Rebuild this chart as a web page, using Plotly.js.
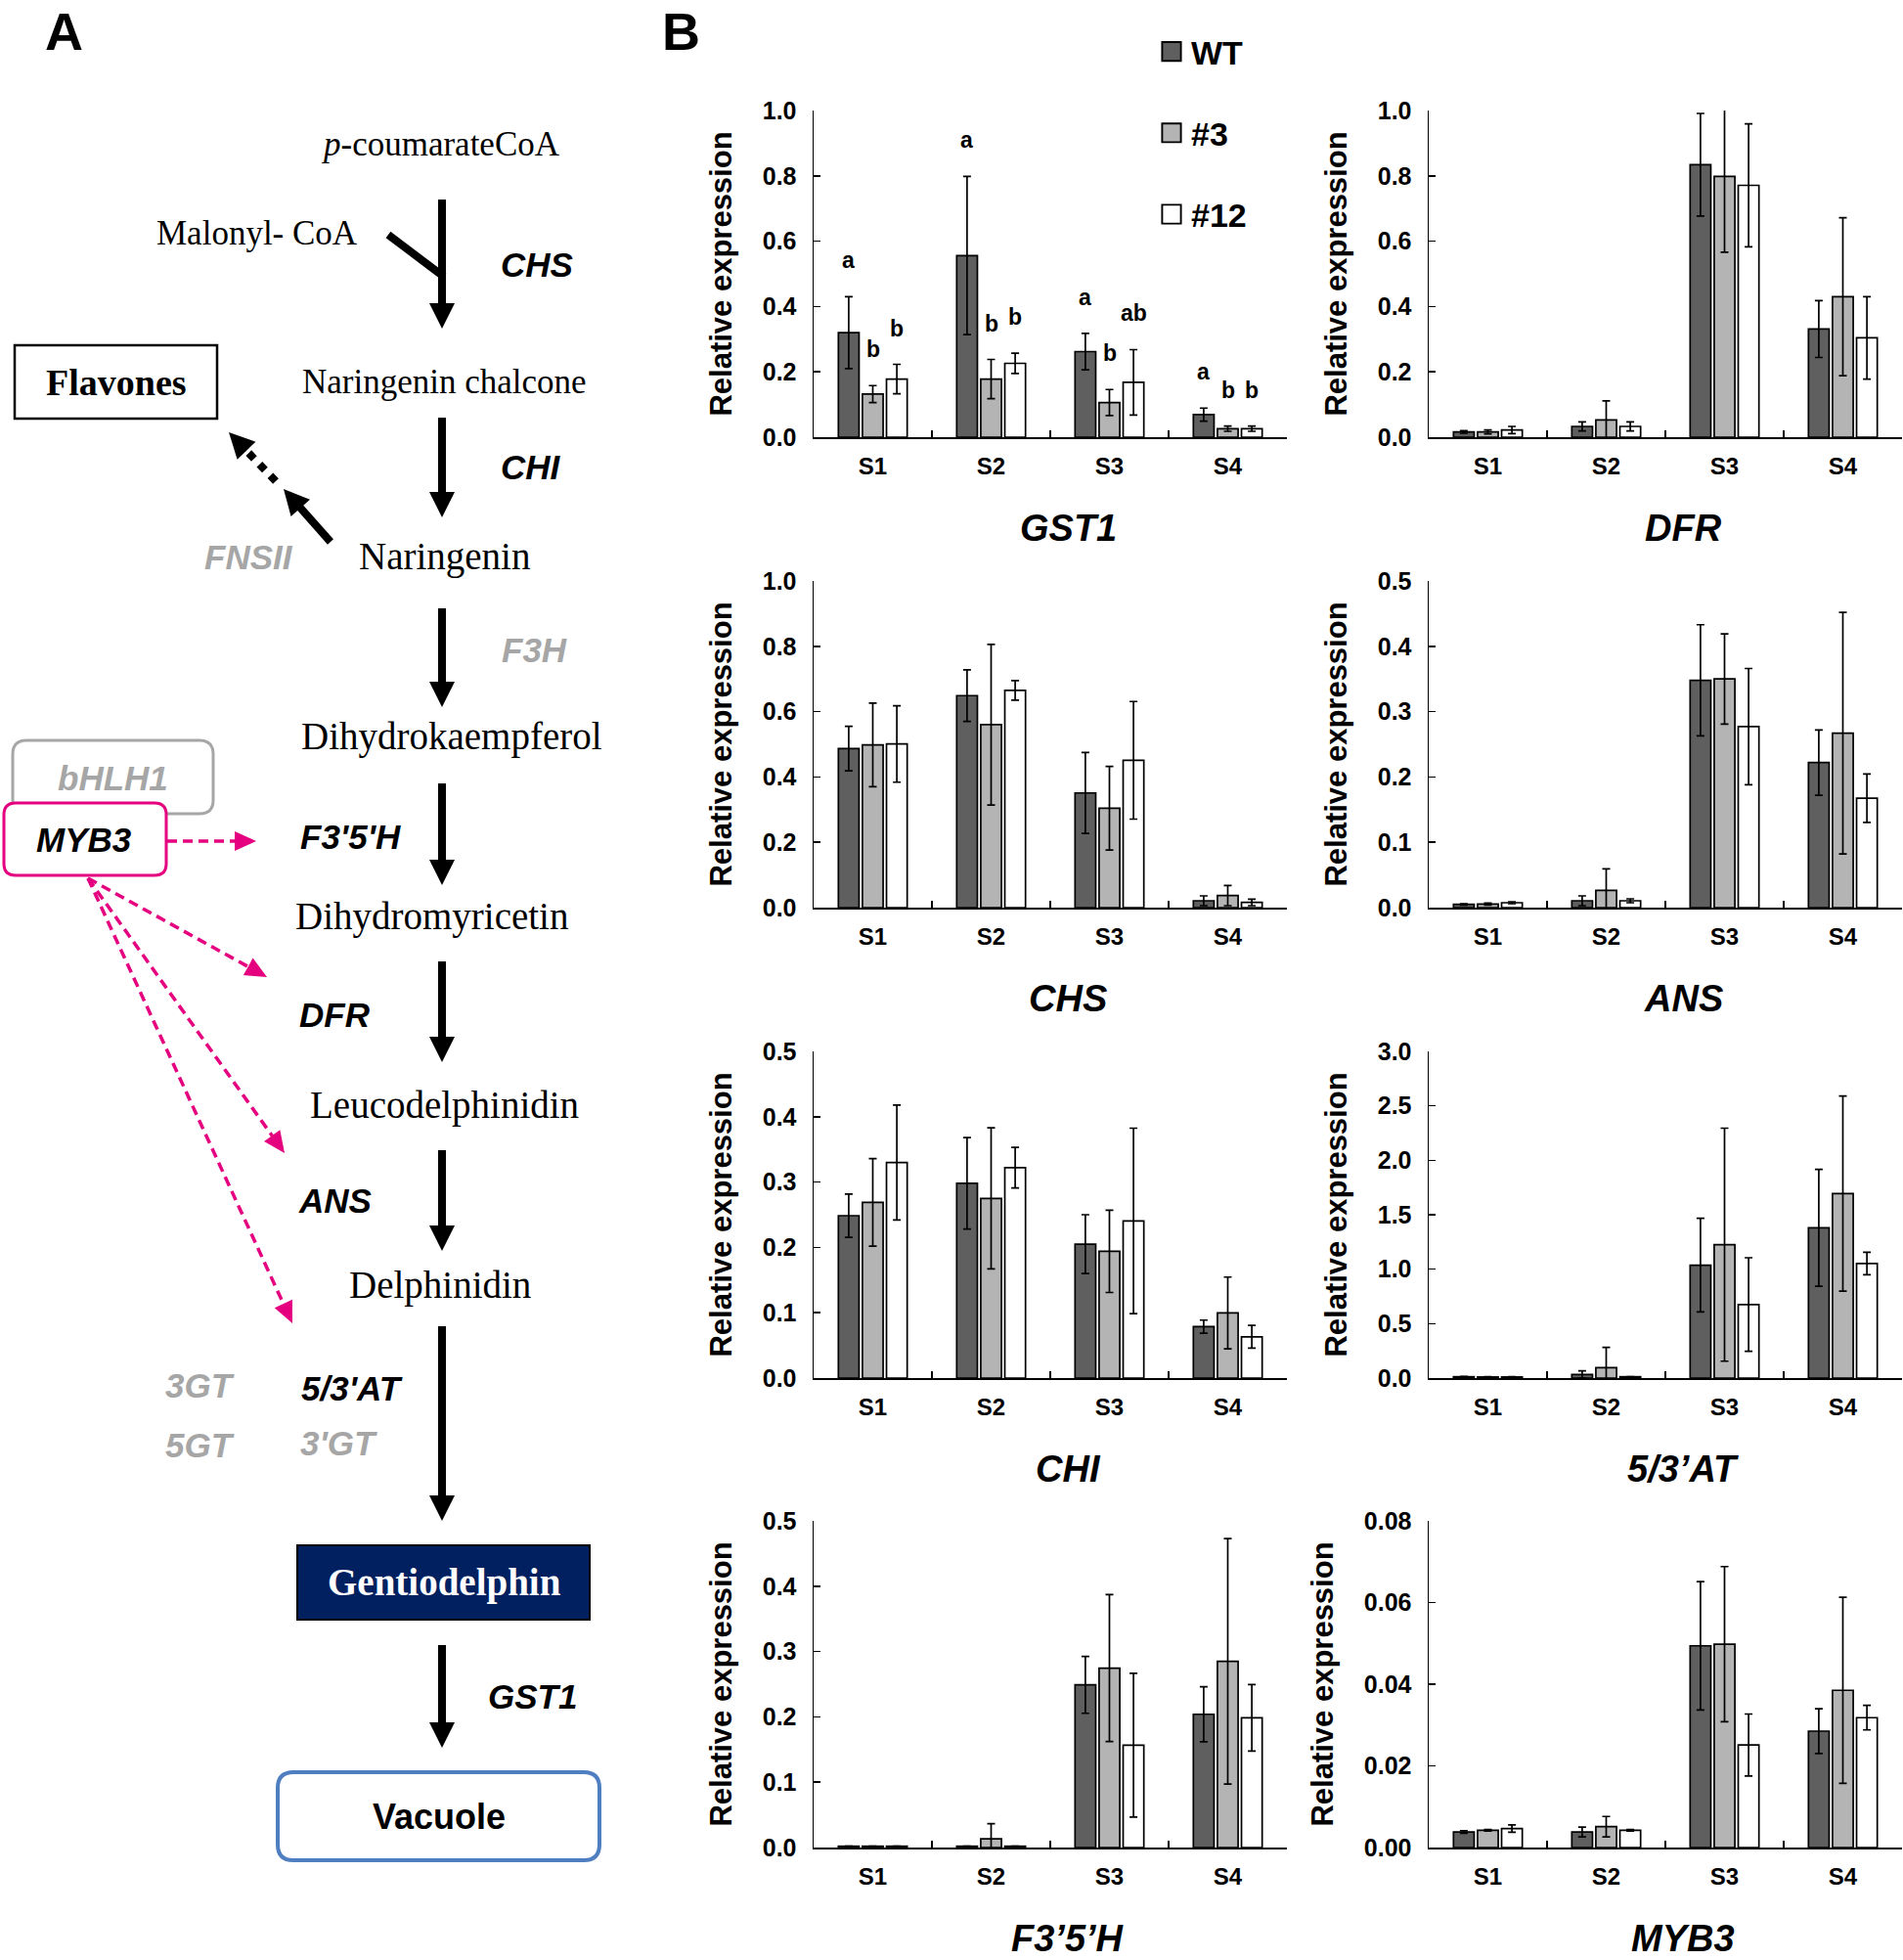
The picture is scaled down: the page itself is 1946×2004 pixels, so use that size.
<!DOCTYPE html>
<html><head><meta charset="utf-8">
<script src="https://cdn.plot.ly/plotly-3.0.1.min.js"></script>
<style>html,body{margin:0;padding:0;background:#fff}#chart{width:1946px;height:2004px}</style>
</head><body><div id="chart"></div>
<script>
// ---------------- DATA ----------------
const STAGES = ['S1','S2','S3','S4'];
const LINES = ['WT','#3','#12'];

const GST1_WT  = [0.320, 0.556, 0.262, 0.069];
const GST1_WT_E= [0.110, 0.242, 0.056, 0.020];
const GST1_L3  = [0.132, 0.178, 0.106, 0.026];
const GST1_L3_E= [0.026, 0.060, 0.040, 0.008];
const GST1_L12 = [0.178, 0.226, 0.168, 0.026];
const GST1_L12_E=[0.045, 0.031, 0.100, 0.008];
const GST1_LET_WT  = ['a','a','a','a'];
const GST1_LET_L3  = ['b','b','b','b'];
const GST1_LET_L12 = ['b','b','ab','b'];

const DFR_WT  = [0.016, 0.033, 0.834, 0.331];
const DFR_WT_E= [0.004, 0.014, 0.157, 0.087];
const DFR_L3  = [0.016, 0.053, 0.798, 0.430];
const DFR_L3_E= [0.006, 0.058, 0.232, 0.242];
const DFR_L12 = [0.022, 0.033, 0.771, 0.304];
const DFR_L12_E=[0.011, 0.014, 0.188, 0.126];

const CHS_WT  = [0.487, 0.649, 0.351, 0.021];
const CHS_WT_E= [0.068, 0.079, 0.124, 0.015];
const CHS_L3  = [0.498, 0.560, 0.304, 0.037];
const CHS_L3_E= [0.128, 0.246, 0.128, 0.031];
const CHS_L12 = [0.501, 0.665, 0.451, 0.016];
const CHS_L12_E=[0.117, 0.030, 0.180, 0.010];

const ANS_WT  = [0.0050, 0.0105, 0.348, 0.222];
const ANS_WT_E= [0.0010, 0.0075, 0.085, 0.050];
const ANS_L3  = [0.0055, 0.0264, 0.350, 0.267];
const ANS_L3_E= [0.0015, 0.0330, 0.069, 0.185];
const ANS_L12 = [0.0075, 0.0105, 0.277, 0.1675];
const ANS_L12_E=[0.0015, 0.0030, 0.089, 0.037];

const CHI_WT  = [0.2485, 0.298, 0.205, 0.0787];
const CHI_WT_E= [0.033, 0.070, 0.045, 0.010];
const CHI_L3  = [0.269, 0.275, 0.194, 0.0996];
const CHI_L3_E= [0.067, 0.108, 0.063, 0.055];
const CHI_L12 = [0.330, 0.322, 0.2405, 0.0632];
const CHI_L12_E=[0.088, 0.031, 0.142, 0.0175];

const AT_WT  = [0.012, 0.033, 1.037, 1.380];
const AT_WT_E= [0.003, 0.033, 0.430, 0.537];
const AT_L3  = [0.010, 0.096, 1.225, 1.694];
const AT_L3_E= [0.003, 0.185, 1.070, 0.896];
const AT_L12 = [0.010, 0.012, 0.675, 1.052];
const AT_L12_E=[0.002, 0.000, 0.430, 0.103];

const F35H_WT  = [0.002, 0.002, 0.249, 0.204];
const F35H_WT_E= [0.000, 0.000, 0.0435, 0.042];
const F35H_L3  = [0.002, 0.0134, 0.2746, 0.285];
const F35H_L3_E= [0.000, 0.023, 0.1125, 0.188];
const F35H_L12 = [0.002, 0.002, 0.1567, 0.1985];
const F35H_L12_E=[0.000, 0.000, 0.110, 0.051];

const MYB3_WT  = [0.00382, 0.00382, 0.0494, 0.0285];
const MYB3_WT_E= [0.0003, 0.0012, 0.0157, 0.0055];
const MYB3_L3  = [0.00422, 0.0051, 0.0498, 0.0385];
const MYB3_L3_E= [0.0002, 0.0025, 0.0190, 0.0228];
const MYB3_L12 = [0.00462, 0.00422, 0.0251, 0.0318];
const MYB3_L12_E=[0.0009, 0.0002, 0.0076, 0.0030];

const TICKS_10 = ['0.0','0.2','0.4','0.6','0.8','1.0'];
const TICKS_05 = ['0.0','0.1','0.2','0.3','0.4','0.5'];
const TICKS_30 = ['0.0','0.5','1.0','1.5','2.0','2.5','3.0'];
const TICKS_008= ['0.00','0.02','0.04','0.06','0.08'];

// ---------------- STYLE / LAYOUT ----------------
const W = 1946, H = 2004;
const X = v => v / W, Y = v => 1 - v / H;
const SANS = 'Liberation Sans, Arial, sans-serif';
const SERIF = 'Liberation Serif, Times New Roman, serif';
const GRAY = '#a6a6a6', MAG = '#e4007f';
const BAR_COLORS = ['#5f5f5f', '#b4b4b4', '#ffffff'];
const BARGAP = 0.39;

const genes = [
  {title:'GST1', m:[GST1_WT,GST1_L3,GST1_L12], e:[GST1_WT_E,GST1_L3_E,GST1_L12_E], ticks:TICKS_10,
   letters:[GST1_LET_WT,GST1_LET_L3,GST1_LET_L12]},
  {title:'DFR', m:[DFR_WT,DFR_L3,DFR_L12], e:[DFR_WT_E,DFR_L3_E,DFR_L12_E], ticks:TICKS_10},
  {title:'CHS', m:[CHS_WT,CHS_L3,CHS_L12], e:[CHS_WT_E,CHS_L3_E,CHS_L12_E], ticks:TICKS_10},
  {title:'ANS', m:[ANS_WT,ANS_L3,ANS_L12], e:[ANS_WT_E,ANS_L3_E,ANS_L12_E], ticks:TICKS_05},
  {title:'CHI', m:[CHI_WT,CHI_L3,CHI_L12], e:[CHI_WT_E,CHI_L3_E,CHI_L12_E], ticks:TICKS_05},
  {title:'5/3\u2019AT', m:[AT_WT,AT_L3,AT_L12], e:[AT_WT_E,AT_L3_E,AT_L12_E], ticks:TICKS_30},
  {title:'F3\u20195\u2019H', m:[F35H_WT,F35H_L3,F35H_L12], e:[F35H_WT_E,F35H_L3_E,F35H_L12_E], ticks:TICKS_05},
  {title:'MYB3', m:[MYB3_WT,MYB3_L3,MYB3_L12], e:[MYB3_WT_E,MYB3_L3_E,MYB3_L12_E], ticks:TICKS_008}
];

const colX = [[832, 1316], [1461, 1945]];
const rowY = [[113, 447], [594, 928], [1075, 1409], [1555, 1889]];

const traces = [];
const layout = {
  width: W, height: H,
  margin: {l:0, r:0, t:0, b:0},
  paper_bgcolor: '#fff', plot_bgcolor: 'rgba(0,0,0,0)',
  barmode: 'group', bargap: BARGAP, bargroupgap: 0.14,
  showlegend: true,
  legend: {x: X(1178), y: Y(24), xanchor:'left', yanchor:'top',
           font:{family:SANS, size:34, weight:'bold', color:'#000'},
           tracegroupgap: 36, bgcolor:'rgba(0,0,0,0)', itemclick:false},
  hovermode: false,
  annotations: [], shapes: []
};
const annos = layout.annotations, shapes = layout.shapes;

genes.forEach((g, k) => {
  const col = k % 2, row = Math.floor(k / 2);
  const sfx = k === 0 ? '' : String(k + 1);
  const xa = 'x' + sfx, ya = 'y' + sfx;
  LINES.forEach((ln, j) => {
    traces.push({
      type:'bar', x: STAGES, y: g.m[j], name: ln, xaxis: xa, yaxis: ya,
      legendgroup: ln, showlegend: k === 0,
      marker: {color: BAR_COLORS[j], line: {color:'#000', width:1.7}},
      error_y: {type:'data', array: g.e[j], visible:true, color:'#000', thickness:1.7, width:4}
    });
  });
  const tv = g.ticks.map(Number);
  layout['xaxis' + sfx] = {
    domain: [X(colX[col][0]), X(colX[col][1])], anchor: ya,
    type:'category', categoryarray: STAGES, range:[-0.5, 3.5],
    ticks:'inside', tickson:'boundaries', ticklen:7, tickwidth:1.5, tickcolor:'#000',
    showline:true, linecolor:'#000', linewidth:1.5, showgrid:false, zeroline:false,
    tickfont:{family:SANS, size:24, weight:'bold', color:'#000'}, ticklabelstandoff: 8,
    fixedrange:true
  };
  layout['yaxis' + sfx] = {
    domain: [Y(rowY[row][1]), Y(rowY[row][0])], anchor: xa,
    range:[0, tv[tv.length - 1]], tickmode:'array', tickvals: tv, ticktext: g.ticks,
    ticks:'inside', ticklen:7, tickwidth:1.5, tickcolor:'#000',
    showline:true, linecolor:'#000', linewidth:1.5, showgrid:false, zeroline:false,
    tickfont:{family:SANS, size:25, weight:'bold', color:'#000'}, ticklabelstandoff: 11,
    title:{text:'Relative expression', font:{family:SANS, size:31, weight:'bold', color:'#000'}, standoff: 22},
    fixedrange:true
  };
  annos.push({xref:'paper', yref:'paper',
    x: X((colX[col][0] + colX[col][1]) / 2 + 18), y: Y(rowY[row][1] + 93),
    text: g.title, showarrow:false, xanchor:'center', yanchor:'middle',
    font:{family:SANS, size:38, weight:'bold', style:'italic', color:'#000'}});
  if (g.letters) {
    const slot = (1 - BARGAP) / LINES.length;
    g.letters.forEach((arr, j) => arr.forEach((t, i) => {
      annos.push({xref: xa, yref: ya, x: i + (j - 1) * slot, y: g.m[j][i] + g.e[j][i],
        text: t, showarrow:false, xanchor:'center', yanchor:'bottom', yshift: 22,
        font:{family:SANS, size:23, weight:'bold', color:'#000'}});
    }));
  }
});

// ---------------- PANEL A (pathway diagram) ----------------
function txt(s, cx, cy, size, o = {}) {
  annos.push({xref:'paper', yref:'paper', x:X(cx), y:Y(cy), text:s, showarrow:false,
    xanchor:'center', yanchor:o.yanchor || 'middle', borderpad:o.borderpad === undefined ? 1 : o.borderpad,
    font:{family:o.family || SANS, size:size, color:o.color || '#000',
          weight:o.weight || 'normal', style:o.style || 'normal'}});
}
function arrowShape(x0, y0, x1, y1, o = {}) {
  const width = o.width || 8, color = o.color || '#000', dash = o.dash || 'solid';
  const len = o.len || 26, half = o.half || 13;
  const dx = x1 - x0, dy = y1 - y0, L = Math.hypot(dx, dy), ux = dx / L, uy = dy / L;
  const bx = x1 - ux * len, by = y1 - uy * len;
  shapes.push({type:'line', xref:'paper', yref:'paper', x0:X(x0), y0:Y(y0),
    x1:X(bx + ux * 2), y1:Y(by + uy * 2), line:{color, width, dash}});
  const nx = -uy, ny = ux;
  shapes.push({type:'path', xref:'paper', yref:'paper',
    path:`M${X(x1)},${Y(y1)}L${X(bx + nx * half)},${Y(by + ny * half)}L${X(bx - nx * half)},${Y(by - ny * half)}Z`,
    fillcolor:color, line:{width:0}});
}
function roundRect(x0, y0, x1, y1, r, lineColor, lw, fill) {
  const P = (x, y) => `${X(x)},${Y(y)}`;
  shapes.push({type:'path', xref:'paper', yref:'paper',
    path:`M${P(x0 + r, y0)}L${P(x1 - r, y0)}Q${P(x1, y0)} ${P(x1, y0 + r)}L${P(x1, y1 - r)}Q${P(x1, y1)} ${P(x1 - r, y1)}L${P(x0 + r, y1)}Q${P(x0, y1)} ${P(x0, y1 - r)}L${P(x0, y0 + r)}Q${P(x0, y0)} ${P(x0 + r, y0)}Z`,
    fillcolor:fill, line:{color:lineColor, width:lw}});
}

// main pathway arrows
const AX = 452;
[[204,336],[427,529],[622,723],[801,905],[983,1086],[1176,1279],[1356,1555],[1682,1787]]
  .forEach(([a, b]) => arrowShape(AX, a, AX, b));
// malonyl branch
shapes.push({type:'line', xref:'paper', yref:'paper', x0:X(397), y0:Y(240), x1:X(454), y1:Y(283),
  line:{color:'#000', width:8}});
// FNSII arrows
arrowShape(338, 554, 290, 500);
arrowShape(282, 492, 234, 442, {dash:'dot'});
// magenta regulatory arrows
const magOpt = {width:3.5, color:MAG, dash:'10px,6px', len:22, half:10};
arrowShape(171, 860, 262, 860, magOpt);
arrowShape(90, 898, 273, 999, magOpt);
arrowShape(90, 898, 291, 1179, magOpt);
arrowShape(90, 898, 299, 1353, magOpt);

// boxes
shapes.push({type:'rect', xref:'paper', yref:'paper', x0:X(15), x1:X(222), y0:Y(353), y1:Y(428),
  line:{color:'#000', width:2.5}, fillcolor:'rgba(0,0,0,0)'});
roundRect(13, 757, 218, 832, 14, GRAY, 3, '#fff');
roundRect(4, 821, 170, 895, 12, MAG, 3, '#fff');
shapes.push({type:'rect', xref:'paper', yref:'paper', x0:X(304), x1:X(603), y0:Y(1580), y1:Y(1656),
  line:{color:'#000', width:2}, fillcolor:'#002060'});
roundRect(284, 1812, 613, 1902, 16, '#4f7fc0', 4, '#fff');

// texts
const BI = {weight:'bold', style:'italic'};
const BIG = Object.assign({color:GRAY}, BI);
txt('A', 65, 1, 54, {weight:'bold', yanchor:'top', borderpad:0});
txt('B', 696, 1, 54, {weight:'bold', yanchor:'top', borderpad:0});
txt('<i>p</i>-coumarateCoA', 450, 148, 35, {family:SERIF});
txt('Malonyl- CoA', 263, 238, 35, {family:SERIF});
txt('CHS', 549, 271, 35, BI);
txt('Flavones', 119, 391, 38, {family:SERIF, weight:'bold'});
txt('Naringenin chalcone', 454, 390, 35, {family:SERIF});
txt('CHI', 543, 477, 35, BI);
txt('FNSII', 254, 569, 35, BIG);
txt('Naringenin', 454, 569, 39, {family:SERIF});
txt('F3H', 546, 664, 35, BIG);
txt('Dihydrokaempferol', 462, 753, 39, {family:SERIF});
txt('bHLH1', 115, 795, 35, BIG);
txt('MYB3', 86, 858, 35, BI);
txt("F3'5'H", 358, 856, 35, BI);
txt('Dihydromyricetin', 441, 937, 39, {family:SERIF});
txt('DFR', 342, 1037, 35, BI);
txt('Leucodelphinidin', 454, 1130, 39, {family:SERIF});
txt('ANS', 342, 1227, 35, BI);
txt('Delphinidin', 450, 1314, 39, {family:SERIF});
txt('3GT', 204, 1416, 35, BIG);
txt("5/3'AT", 360, 1419, 35, BI);
txt('5GT', 204, 1477, 35, BIG);
txt("3'GT", 346, 1475, 35, BIG);
txt('Gentiodelphin', 454, 1618, 39, {family:SERIF, weight:'bold', color:'#fff'});
txt('GST1', 544, 1734, 35, BI);
txt('Vacuole', 449, 1857, 36, {weight:'bold'});

Plotly.newPlot('chart', traces, layout, {staticPlot:true, displayModeBar:false}).then(() => {
  // enlarge the legend swatches to match the reference's bigger boxes
  document.querySelectorAll('#chart .legend .legendpoints path').forEach(p => {
    const t = p.getAttribute('transform') || '';
    p.setAttribute('transform', t + ' scale(1.6)');
    p.style.strokeWidth = '1.2px';
  });
});
</script></body></html>
